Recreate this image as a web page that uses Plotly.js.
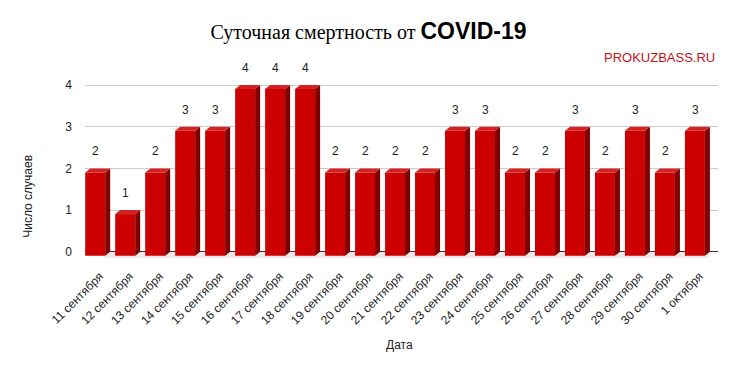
<!DOCTYPE html>
<html>
<head>
<meta charset="utf-8">
<script src="https://cdn.plot.ly/plotly-3.0.1.min.js"></script>
<style>html,body{margin:0;padding:0;background:#fff;}#chart{width:737px;height:371px;}</style>
</head>
<body>
<div id="chart"></div>
<script>
const categories = ["11 сентября","12 сентября","13 сентября","14 сентября","15 сентября","16 сентября","17 сентября","18 сентября","19 сентября","20 сентября","21 сентября","22 сентября","23 сентября","24 сентября","25 сентября","26 сентября","27 сентября","28 сентября","29 сентября","30 сентября","1 октября"];
const deaths = [2,1,2,3,3,4,4,4,2,2,2,2,3,3,2,2,3,2,3,2,3];
const yTicks = [0,1,2,3,4];

// 3D look parameters (in axis units)
const halfW = 0.333;   // half width of front face
const dx = 0.167;      // depth offset to the right
const dy = 0.096;      // depth offset downward for front face

const idx = categories.map((_, i) => i);

// front faces as bars
const frontTrace = {
  type: 'bar', x: idx, y: deaths.map(v => v), base: deaths.map(() => -dy),
  width: 2 * halfW, marker: {color: '#cc0000', line: {width: 0}},
  hoverinfo: 'skip', showlegend: false
};

// side faces
const sx = [], sy = [];
deaths.forEach((v, i) => {
  sx.push(i + halfW, i + halfW + dx, i + halfW + dx, i + halfW, i + halfW, null);
  sy.push(-dy, 0, v, v - dy, -dy, null);
});
const sideTrace = {type: 'scatter', mode: 'lines', x: sx, y: sy, fill: 'toself',
  fillcolor: '#800000', line: {width: 0, color: 'rgba(0,0,0,0)'}, hoverinfo: 'skip', showlegend: false};

// top faces
const tx = [], ty = [];
deaths.forEach((v, i) => {
  tx.push(i - halfW, i - halfW + dx, i + halfW + dx, i + halfW, i - halfW, null);
  ty.push(v - dy, v, v, v - dy, v - dy, null);
});
const topTrace = {type: 'scatter', mode: 'lines', x: tx, y: ty, fill: 'toself',
  fillcolor: '#d42222', line: {width: 0, color: 'rgba(0,0,0,0)'}, hoverinfo: 'skip', showlegend: false};

const font = 'Liberation Sans, Arial, sans-serif';

const annotations = deaths.map((v, i) => ({
  x: i + 0.02, y: v, xref: 'x', yref: 'y', text: String(v), showarrow: false,
  yshift: 17, yanchor: 'middle', font: {family: font, size: 12, color: '#222'}
}));
annotations.push({
  xref: 'paper', yref: 'paper', x: -0.09, y: 0.35, text: 'Число случаев', textangle: -90,
  showarrow: false, xanchor: 'center', yanchor: 'middle', font: {family: font, size: 12, color: '#222'}
});
annotations.push({
  xref: 'paper', yref: 'paper', x: 0.497, y: -0.497, text: 'Дата',
  showarrow: false, xanchor: 'center', yanchor: 'middle', font: {family: font, size: 12, color: '#222'}
});
annotations.push({
  xref: 'paper', yref: 'paper', x: 0.998, y: 1.143, text: 'PROKUZBASS.RU',
  showarrow: false, xanchor: 'right', yanchor: 'middle', font: {family: font, size: 13, color: '#c0141c'}
});

const layout = {
  width: 737, height: 371,
  margin: {l: 85, r: 19, t: 83, b: 113, pad: 0},
  paper_bgcolor: '#fff', plot_bgcolor: '#fff',
  title: {
    text: '<span style="font-family:Liberation Serif, Times New Roman, serif">Суточная смертность от </span><b style="font-family:Liberation Sans, Arial, sans-serif;font-size:23px">COVID-19</b>',
    x: 0.5, xref: 'container', xanchor: 'center', y: 0.914, yref: 'container', yanchor: 'middle',
    font: {family: 'Liberation Serif, serif', size: 20, color: '#000'}
  },
  xaxis: {
    range: [-0.34, 20.77], tickmode: 'array', tickvals: idx.map(i => i + 0.15), ticktext: categories,
    tickangle: -45, showgrid: false, zeroline: false, showline: false, ticks: '', ticklabelstandoff: 8,
    tickfont: {family: font, size: 12, color: '#222'}, fixedrange: true
  },
  yaxis: {
    range: [-0.15, 4.05], tickmode: 'array', tickvals: yTicks, ticktext: yTicks.map(String),
    showgrid: true, gridcolor: '#cccccc', gridwidth: 1, zeroline: true, zerolinecolor: '#333333', zerolinewidth: 1,
    showline: false, ticks: '', ticklabelstandoff: 12,
    tickfont: {family: font, size: 12, color: '#222'}, fixedrange: true
  },
  shapes: [{
    type: 'rect', xref: 'paper', yref: 'y', x0: 0.03, x1: 0.985, y0: -0.15, y1: 0,
    fillcolor: '#efe8e8', line: {width: 0}, layer: 'below'
  }],
  annotations: annotations,
  showlegend: false, barmode: 'overlay'
};

Plotly.newPlot('chart', [sideTrace, topTrace, frontTrace], layout, {displayModeBar: false, staticPlot: true});
</script>
</body>
</html>
